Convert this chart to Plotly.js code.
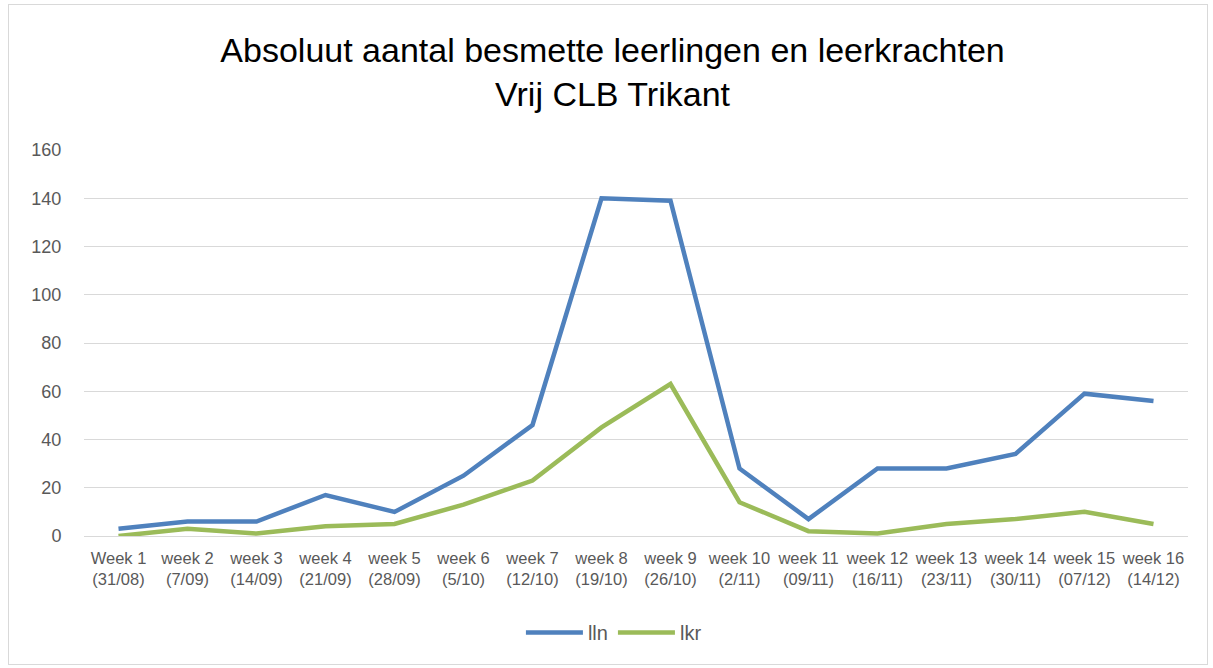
<!DOCTYPE html>
<html>
<head>
<meta charset="utf-8">
<script src="https://cdn.plot.ly/plotly-3.0.1.min.js"></script>
<style>
  html, body { margin: 0; padding: 0; background: #fff; }
  #chart { width: 1213px; height: 668px; }
  #frame { position: absolute; left: 8px; top: 4px; width: 1198px; height: 659px; border: 1px solid #d9d9d9; pointer-events: none; }
</style>
</head>
<body>
<div id="chart"></div>
<div id="frame"></div>
<script>
const weeks = ["Week 1<br>(31/08)", "week 2<br>(7/09)", "week 3<br>(14/09)", "week 4<br>(21/09)",
  "week 5<br>(28/09)", "week 6<br>(5/10)", "week 7<br>(12/10)", "week 8<br>(19/10)",
  "week 9<br>(26/10)", "week 10<br>(2/11)", "week 11<br>(09/11)", "week 12<br>(16/11)",
  "week 13<br>(23/11)", "week 14<br>(30/11)", "week 15<br>(07/12)", "week 16<br>(14/12)"];
const lln = [3, 6, 6, 17, 10, 25, 46, 140, 139, 28, 7, 28, 28, 34, 59, 56];
const lkr = [0, 3, 1, 4, 5, 13, 23, 45, 63, 14, 2, 1, 5, 7, 10, 5];

const font = "Liberation Sans, Arial, sans-serif";
const data = [
  { x: weeks, y: lln, name: "lln", type: "scatter", mode: "lines",
    line: { color: "#4f81bd", width: 4.5 } },
  { x: weeks, y: lkr, name: "lkr", type: "scatter", mode: "lines",
    line: { color: "#9bbb59", width: 4.5 } }
];
const layout = {
  width: 1213, height: 668,
  margin: { l: 84, r: 25, t: 150, b: 132 },
  paper_bgcolor: "#fff", plot_bgcolor: "#fff",
  font: { family: font, color: "#595959" },
  title: { text: "Absoluut aantal besmette leerlingen en leerkrachten<br>Vrij CLB Trikant",
    font: { family: font, size: 34, color: "#000" }, x: 0.505, xanchor: "center", y: 0.907, yanchor: "top" },
  xaxis: { type: "category", range: [-0.5, 15.5], showgrid: false, zeroline: false,
    showline: false, ticks: "outside", ticklen: 7, tickcolor: "rgba(0,0,0,0)",
    tickfont: { family: font, size: 16.5, color: "#595959" }, fixedrange: true },
  yaxis: { range: [0, 160], dtick: 20, showgrid: true, gridcolor: "#d9d9d9", gridwidth: 1,
    zeroline: true, zerolinecolor: "#d9d9d9", zerolinewidth: 1, showline: false,
    ticks: "outside", ticklen: 18, tickcolor: "rgba(0,0,0,0)",
    tickfont: { family: font, size: 18, color: "#595959" }, fixedrange: true },
  showlegend: true,
  legend: { orientation: "h", x: 0.48, xanchor: "center", y: -0.25, yanchor: "middle",
    itemwidth: 57, font: { family: font, size: 20, color: "#595959" } },
  hovermode: false
};
Plotly.newPlot("chart", data, layout, { displayModeBar: false, staticPlot: true });
</script>
</body>
</html>
